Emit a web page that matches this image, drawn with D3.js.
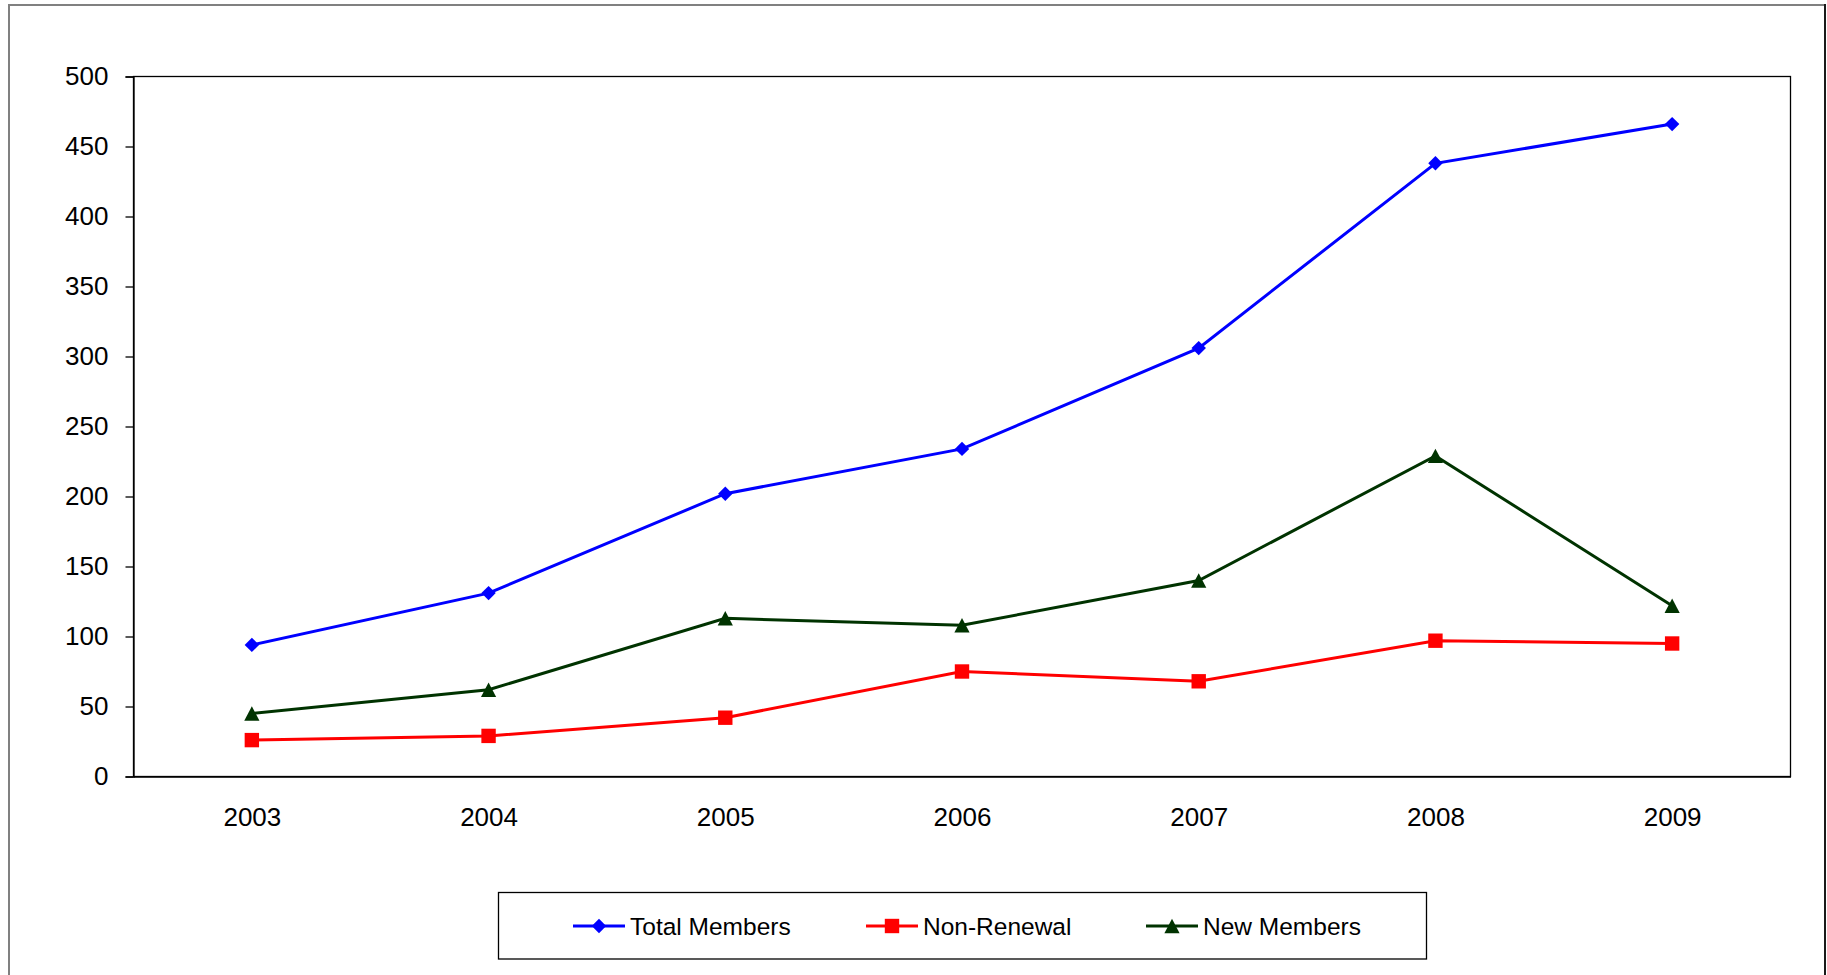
<!DOCTYPE html>
<html>
<head>
<meta charset="utf-8">
<script src="https://cdn.jsdelivr.net/npm/d3@7"></script>
<style>
  html, body { margin: 0; padding: 0; background: #fff; }
  svg { display: block; font-family: "Liberation Sans", Arial, sans-serif; }
</style>
</head>
<body>
<svg id="chart" width="1827" height="975"></svg>
<script>
// Membership figures by year
const years = ["2003", "2004", "2005", "2006", "2007", "2008", "2009"];
const totalMembers = [94, 131, 202, 234, 306, 438, 466];
const nonRenewal = [26, 29, 42, 75, 68, 97, 95];
const newMembers = [45, 62, 113, 108, 140, 229, 122];
const yTicks = [0, 50, 100, 150, 200, 250, 300, 350, 400, 450, 500];

const seriesNames = ["Total Members", "Non-Renewal", "New Members"];
const seriesValues = [totalMembers, nonRenewal, newMembers];
const seriesColors = ["#0000ff", "#ff0000", "#003300"];
const seriesMarkers = ["diamond", "square", "triangle"];

(function drawChart() {
  const svg = d3.select("#chart");

  // Chart frame
  svg.append("line").attr("x1", 9).attr("x2", 1826).attr("y1", 5).attr("y2", 5)
    .attr("stroke", "#808080").attr("stroke-width", 2);
  svg.append("line").attr("x1", 9).attr("x2", 9).attr("y1", 4).attr("y2", 975)
    .attr("stroke", "#808080").attr("stroke-width", 2);
  svg.append("line").attr("x1", 1825).attr("x2", 1825).attr("y1", 4).attr("y2", 975)
    .attr("stroke", "#1a1a1a").attr("stroke-width", 2);

  // Plot area
  const plotLeft = 133.5, plotRight = 1790.5, plotTop = 76.5, plotBottom = 776.5;

  const x = d3.scalePoint().domain(years).range([plotLeft, plotRight]).padding(0.5);
  const y = d3.scaleLinear().domain([0, 500]).range([plotBottom, plotTop]);

  svg.append("rect")
    .attr("x", plotLeft).attr("y", plotTop)
    .attr("width", plotRight - plotLeft).attr("height", plotBottom - plotTop)
    .attr("fill", "none").attr("stroke", "#000").attr("stroke-width", 1.3);

  // Y axis
  const yAxis = svg.append("g")
    .attr("transform", `translate(${plotLeft},0)`)
    .call(d3.axisLeft(y).tickValues(yTicks).tickSize(8).tickPadding(17));
  yAxis.select(".domain").attr("stroke", "#000").attr("stroke-width", 1.3);
  yAxis.selectAll(".tick line").attr("stroke", "#000").attr("stroke-width", 1.3);
  yAxis.selectAll(".tick text")
    .attr("font-size", 26).attr("fill", "#000")
    .attr("font-family", "'Liberation Sans', Arial, sans-serif");

  // X axis (labels only)
  const xAxis = svg.append("g")
    .attr("transform", `translate(0,${plotBottom})`)
    .call(d3.axisBottom(x).tickSize(0).tickPadding(31));
  xAxis.select(".domain").attr("stroke", "#000").attr("stroke-width", 1.3);
  xAxis.selectAll(".tick text")
    .attr("font-size", 26).attr("fill", "#000")
    .attr("font-family", "'Liberation Sans', Arial, sans-serif");

  // Marker shapes, centred on the origin
  function markerPath(kind) {
    if (kind === "diamond") return "M0,-7.2L7.2,0L0,7.2L-7.2,0Z";
    if (kind === "square") return "M-7.2,-7.2H7.2V7.2H-7.2Z";
    return "M0,-7.2L7.6,7.2H-7.6Z";
  }

  const line = d3.line()
    .x(d => x(d.year))
    .y(d => y(d.value));

  seriesValues.forEach((vals, i) => {
    const data = years.map((yr, j) => ({ year: yr, value: vals[j] }));
    const g = svg.append("g");
    g.append("path")
      .datum(data)
      .attr("d", line)
      .attr("fill", "none")
      .attr("stroke", seriesColors[i])
      .attr("stroke-width", 3);
    g.selectAll("path.marker")
      .data(data)
      .enter().append("path")
      .attr("class", "marker")
      .attr("d", markerPath(seriesMarkers[i]))
      .attr("transform", d => `translate(${x(d.year)},${y(d.value)})`)
      .attr("fill", seriesColors[i]);
  });

  // Legend
  svg.append("rect")
    .attr("x", 498.5).attr("y", 892.5)
    .attr("width", 928).attr("height", 66.5)
    .attr("fill", "#fff").attr("stroke", "#000").attr("stroke-width", 1.3);

  const legendX = [573, 866, 1146];
  const legendY = 926;
  seriesNames.forEach((name, i) => {
    const lx = legendX[i];
    const g = svg.append("g");
    g.append("line")
      .attr("x1", lx).attr("x2", lx + 52)
      .attr("y1", legendY).attr("y2", legendY)
      .attr("stroke", seriesColors[i]).attr("stroke-width", 3);
    g.append("path")
      .attr("d", markerPath(seriesMarkers[i]))
      .attr("transform", `translate(${lx + 26},${legendY})`)
      .attr("fill", seriesColors[i]);
    g.append("text")
      .attr("x", lx + 57).attr("y", legendY + 8.5)
      .attr("font-size", 24.5).attr("fill", "#000")
      .text(name);
  });
})();
</script>
</body>
</html>
